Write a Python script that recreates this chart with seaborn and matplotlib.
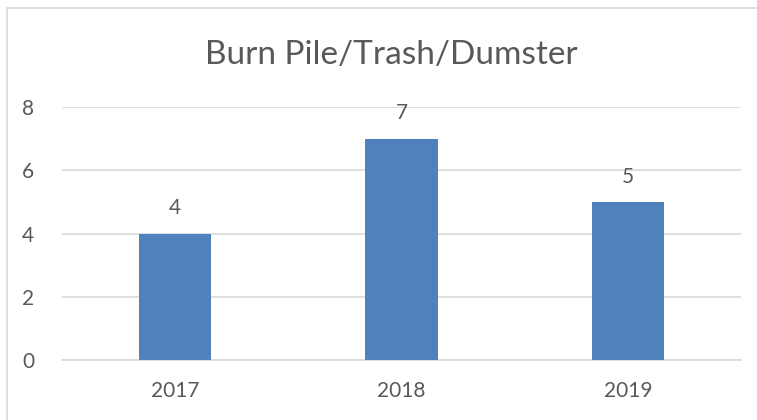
import matplotlib
matplotlib.use("Agg")
import matplotlib.pyplot as plt
import pandas as pd
import seaborn as sns
from matplotlib.patches import Rectangle

# Data
years = ["2017", "2018", "2019"]
counts = [4, 7, 5]
title = "Burn Pile/Trash/Dumster"

df = pd.DataFrame({"year": years, "count": counts})

sns.set_theme(style="white")
plt.rcParams["font.family"] = ["Lato", "DejaVu Sans"]

text_col = "#595959"
grid_col = "#D9D9D9"

fig = plt.figure(figsize=(7.57, 4.2), dpi=100)
ax = fig.add_axes([0.082, 0.143, 0.897, 0.602])

sns.barplot(data=df, x="year", y="count", color="#4F81BD", width=0.32,
            saturation=1, ax=ax, zorder=3, edgecolor="none")

ax.set_ylim(0, 8)
ax.set_yticks([0, 2, 4, 6, 8])
ax.set_xlim(-0.5, 2.5)
ax.yaxis.grid(True, color=grid_col, linewidth=1.2, zorder=0)
ax.set_axisbelow(True)
for s in ["top", "right", "left"]:
    ax.spines[s].set_visible(False)
ax.spines["bottom"].set_color(grid_col)
ax.spines["bottom"].set_linewidth(1.2)
ax.set_xlabel("")
ax.set_ylabel("")
ax.tick_params(axis="both", length=0, labelsize=15, colors=text_col)
ax.tick_params(axis="x", pad=15)
ax.tick_params(axis="y", pad=20)

for c in ax.containers:
    ax.bar_label(c, padding=11, fontsize=15, color=text_col)

fig.text(0.517, 0.868, title, ha="center", va="center", fontsize=24, color=text_col)

fig.patches.append(Rectangle((7 / 757, -0.1), 1.2, 1 - 8 / 420 + 0.1,
                             transform=fig.transFigure, fill=False,
                             edgecolor=grid_col, linewidth=1.2))

fig.savefig("out.png", dpi=100)
